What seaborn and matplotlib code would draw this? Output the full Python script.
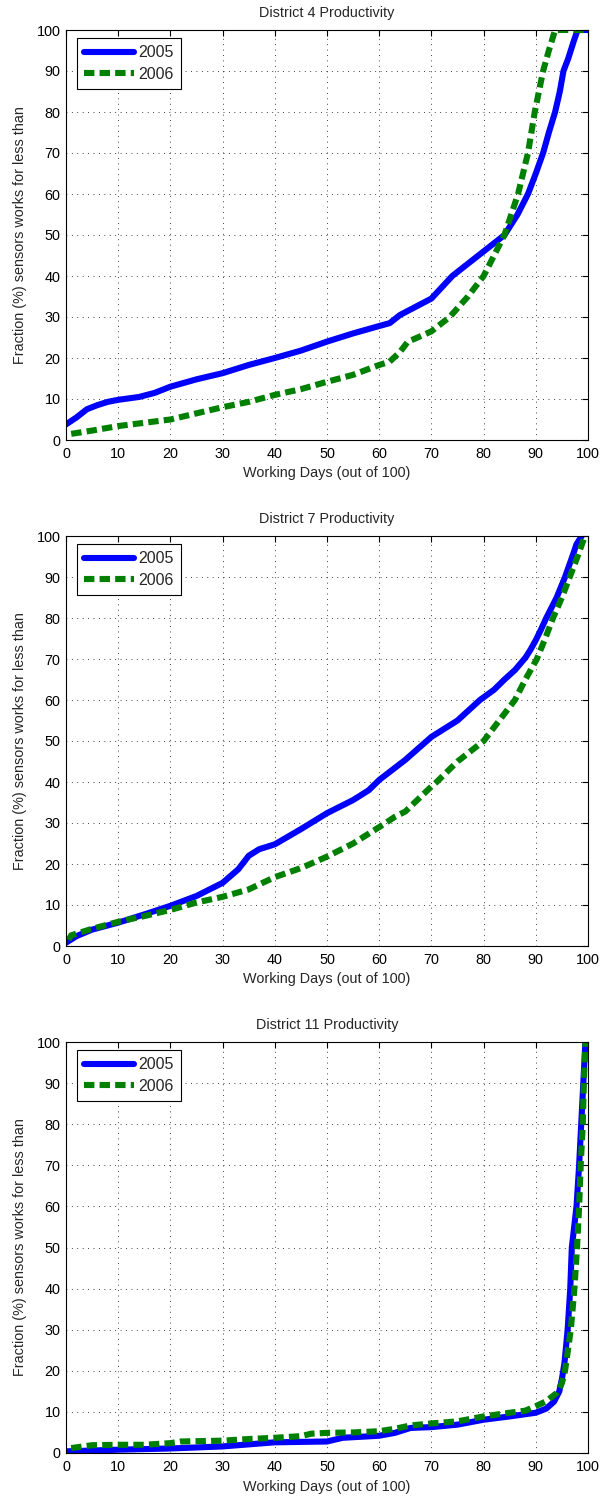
import matplotlib
matplotlib.use("Agg")
import matplotlib.pyplot as plt
import seaborn as sns
import pandas as pd

# District 4 cumulative productivity curves
d4_2005_days = [0, 2, 4, 6, 8, 10, 14, 17, 20, 25, 30, 35, 40, 45, 50, 55, 60, 62, 64, 67,
                70, 74, 78, 81, 84, 86.5, 88.5, 90, 91.4, 92.5, 93.7, 94.6, 95.3, 96.2, 97.2, 98, 100]
d4_2005_frac = [3.8, 5.5, 7.5, 8.5, 9.3, 9.8, 10.5, 11.5, 13, 14.8, 16.3, 18.3, 20, 21.8, 24, 26, 27.8, 28.5, 30.5, 32.5,
                34.5, 40, 44, 47, 50, 55, 60, 65, 70, 75, 80, 85, 90, 93, 97, 100, 100]
d4_2006_days = [1, 5, 10, 15, 20, 25, 30, 35, 40, 45, 50, 55, 60, 62, 64, 65.5, 67, 70, 73.5,
                77, 80, 82, 84, 86.6, 88.5, 89.8, 91.4, 92.5, 93.7, 100]
d4_2006_frac = [1.5, 2.3, 3.4, 4.2, 5, 6.5, 8, 9.3, 11, 12.4, 14.2, 15.9, 18.3, 19.1, 21.5, 24, 24.8, 26.5, 30,
                35, 40, 45, 50, 60, 70, 80, 90, 95, 100, 100]

# District 7
d7_2005_days = [0, 2, 5, 10, 15, 20, 25, 30, 33, 35, 37, 40, 45, 50, 55, 58, 60, 65, 70, 75,
                79.3, 82, 84, 86, 88, 89, 90, 91, 92, 93, 94, 95.6, 97, 97.8, 98.8]
d7_2005_frac = [0.8, 2.4, 4, 5.7, 7.7, 9.8, 12.2, 15.4, 18.7, 22, 23.6, 24.8, 28.5, 32.4, 35.6, 38, 40.5, 45.4, 51, 55,
                60, 62.5, 65, 67.3, 70.3, 72.3, 74.6, 77.2, 80, 82.5, 85, 90, 95, 98, 100]
d7_2006_days = [0.5, 1, 5, 10, 15, 20, 25, 30, 35, 40, 45, 50, 55, 60, 63, 65, 70, 71, 75, 80,
                83, 86, 88, 90.2, 91.8, 93.3, 95, 96.5, 98, 99.4]
d7_2006_frac = [1.5, 2.6, 4.2, 5.9, 7.3, 8.8, 10.6, 12, 13.8, 16.8, 19, 21.8, 25, 29, 31.5, 32.8, 38.9, 40, 45, 50,
                55, 60, 65, 70, 75, 80, 85, 90, 95, 100]

# District 11
d11_2005_days = [0, 10, 20, 30, 40, 50, 53, 60, 63, 66, 70, 75, 80, 85, 90, 92, 93.5, 94.5, 95, 95.5,
                 96.1, 96.6, 96.9, 97.8, 98.3, 98.7, 99.1, 99.5]
d11_2005_frac = [0.4, 0.8, 1.1, 1.6, 2.6, 2.8, 3.7, 4.2, 4.9, 6.1, 6.3, 6.9, 8.1, 8.9, 9.8, 10.8, 12.5, 15, 18, 22,
                 30, 40, 50, 60, 70, 80, 90, 100]
d11_2006_days = [1, 5, 10, 15, 20, 22, 30, 35, 40, 45, 47, 50, 55, 60, 63, 66, 70, 75, 80, 85, 88, 90, 92,
                 94, 95, 95.6, 96.7, 97.4, 97.9, 98.3, 98.6, 99, 99.2, 99.5]
d11_2006_frac = [1.2, 1.9, 2, 2, 2.4, 2.8, 3, 3.4, 3.7, 4.1, 4.7, 4.9, 5, 5.3, 5.9, 6.7, 7.2, 7.7, 8.9, 9.8, 10.3, 11.4, 12.6,
                 14.6, 17, 20, 30, 40, 50, 60, 70, 80, 90, 100]

titles = ["District 4 Productivity", "District 7 Productivity", "District 11 Productivity"]
years = ["2005", "2006"]
tick_values = list(range(0, 101, 10))

panels = [
    ((d4_2005_days, d4_2005_frac), (d4_2006_days, d4_2006_frac)),
    ((d7_2005_days, d7_2005_frac), (d7_2006_days, d7_2006_frac)),
    ((d11_2005_days, d11_2005_frac), (d11_2006_days, d11_2006_frac)),
]

sns.set_theme(style="white")
plt.rcParams["font.family"] = ["Liberation Sans", "DejaVu Sans"]
plt.rcParams["axes.edgecolor"] = "black"
plt.rcParams["axes.linewidth"] = 0.8

W, H = 603, 1501
fig = plt.figure(figsize=(W / 100, H / 100), dpi=100)

left = 66 / W
width = (588 - 66) / W
tops = [30, 536, 1042]
bottoms = [440, 946, 1453]

lw = 4.4
fs = 10.4
legend_fs = 11.5
dash = [1.7, 0.85]

for (s05, s06), title, top, bot in zip(panels, titles, tops, bottoms):
    ax = fig.add_axes([left, 1 - bot / H, width, (bot - top) / H])
    df05 = pd.DataFrame({"days": s05[0], "frac": s05[1]})
    df06 = pd.DataFrame({"days": s06[0], "frac": s06[1]})
    sns.lineplot(data=df05, x="days", y="frac", ax=ax, color=(0, 0, 1), lw=lw,
                 estimator=None, sort=False, label=years[0])
    sns.lineplot(data=df06, x="days", y="frac", ax=ax, color=(0, 0.5, 0), lw=lw,
                 estimator=None, sort=False, label=years[1])
    ax.lines[1].set_dashes(dash)
    ax.lines[1].set_dash_capstyle("butt")

    ax.set_xlim(0, 100)
    ax.set_ylim(0, 100)
    ax.set_xticks(tick_values)
    ax.set_yticks(tick_values)
    ax.tick_params(direction="in", top=True, right=True, length=4, width=0.8,
                   labelsize=fs, colors="black")
    ax.tick_params(axis="x", pad=5)
    ax.tick_params(axis="y", pad=4)
    ax.grid(True, color="black", linestyle=(0, (1, 5.5)), linewidth=0.6)
    ax.set_axisbelow(True)
    ax.set_title(title, fontsize=fs, pad=9.5)
    ax.set_xlabel("Working Days (out of 100)", fontsize=fs, labelpad=4)
    ax.set_ylabel("Fraction (%) sensors works for less than", fontsize=fs, labelpad=7)
    for sp in ax.spines.values():
        sp.set_color("black")
        sp.set_visible(True)

    leg = ax.legend(loc="upper left", bbox_to_anchor=(0.021, 0.980), fontsize=legend_fs,
                    handlelength=3.1, handletextpad=0.3, borderpad=0.45,
                    labelspacing=0.4, borderaxespad=0.0, fancybox=False,
                    framealpha=1, edgecolor="black")
    leg.get_frame().set_linewidth(0.8)
    leg.get_lines()[1].set_dashes(dash)

fig.savefig("out.png", dpi=100, facecolor="white")
